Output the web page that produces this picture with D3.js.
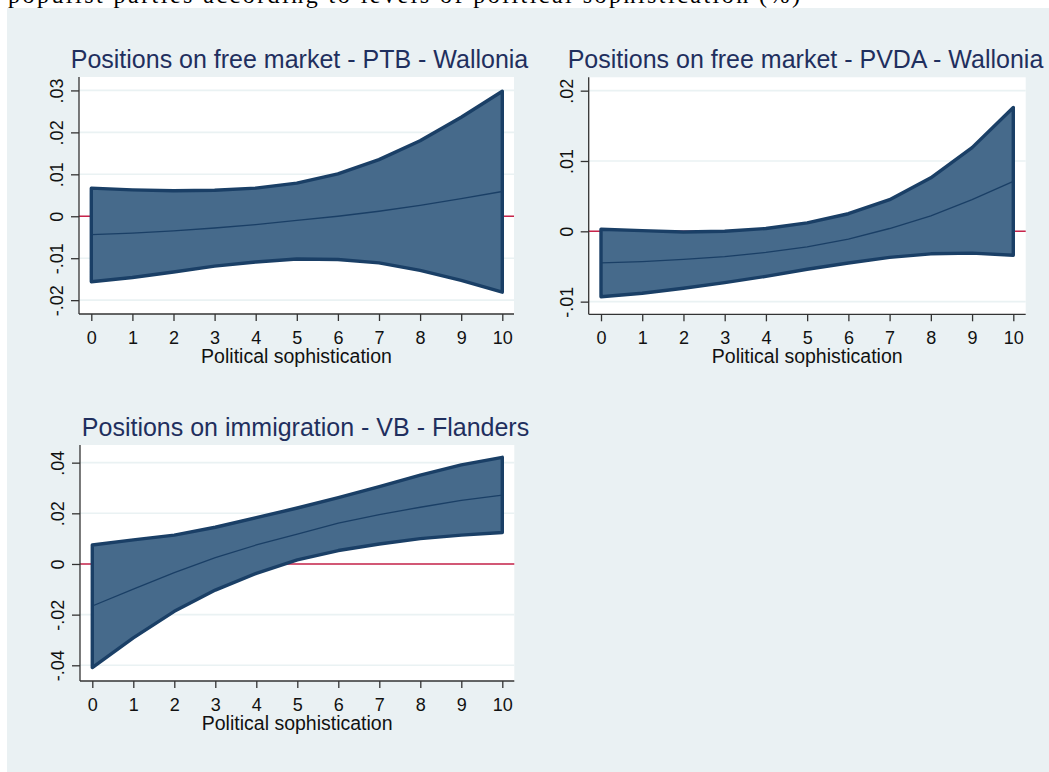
<!DOCTYPE html>
<html>
<head>
<meta charset="utf-8">
<script src="https://cdn.jsdelivr.net/npm/d3@7/dist/d3.min.js"></script>
<style>
  html, body { margin: 0; padding: 0; background: #ffffff; }
  svg { display: block; }
</style>
</head>
<body>
<svg id="chart" width="1049" height="772"></svg>
<script>
// ---------------- DATA ----------------
const sophistication = [0, 1, 2, 3, 4, 5, 6, 7, 8, 9, 10];
const xTickValues = [0, 1, 2, 3, 4, 5, 6, 7, 8, 9, 10];
const xAxisTitle = "Political sophistication";

const ptbTitle = "Positions on free market - PTB - Wallonia";
const ptbUpper = [0.0067, 0.0063, 0.0061, 0.0062, 0.0067, 0.0079, 0.0101, 0.0135, 0.0180, 0.0236, 0.0298];
const ptbMean  = [-0.0044, -0.0040, -0.0035, -0.0028, -0.0020, -0.0010, 0.0000, 0.0012, 0.0026, 0.0042, 0.0059];
const ptbLower = [-0.0156, -0.0146, -0.0133, -0.0119, -0.0109, -0.0102, -0.0103, -0.0111, -0.0129, -0.0153, -0.0181];
const ptbYTicks = [-0.02, -0.01, 0, 0.01, 0.02, 0.03];

const pvdaTitle = "Positions on free market - PVDA - Wallonia";
const pvdaUpper = [0.0003, 0.0001, -0.0001, 0.0000, 0.0004, 0.0012, 0.0025, 0.0045, 0.0076, 0.0119, 0.0176];
const pvdaMean  = [-0.0045, -0.0043, -0.0040, -0.0036, -0.0030, -0.0022, -0.0011, 0.0004, 0.0022, 0.0045, 0.0071];
const pvdaLower = [-0.0093, -0.0088, -0.0081, -0.0073, -0.0064, -0.0054, -0.0045, -0.0037, -0.0032, -0.0031, -0.0034];
const pvdaYTicks = [-0.01, 0, 0.01, 0.02];

const vbTitle = "Positions on immigration - VB - Flanders";
const vbUpper = [0.0075, 0.0095, 0.0114, 0.0145, 0.0183, 0.0221, 0.0262, 0.0305, 0.0351, 0.0391, 0.0421];
const vbMean  = [-0.0166, -0.0099, -0.0034, 0.0025, 0.0075, 0.0118, 0.0161, 0.0195, 0.0224, 0.0251, 0.0272];
const vbLower = [-0.0409, -0.0292, -0.0187, -0.0103, -0.0037, 0.0016, 0.0053, 0.0079, 0.0100, 0.0114, 0.0124];
const vbYTicks = [-0.04, -0.02, 0, 0.02, 0.04];

const captionText = "populist parties according to levels of political sophistication (%)";

// ---------------- LAYOUT / STYLE ----------------
const COLORS = {
  outerBg: "#eaf1f3",
  plotBg: "#ffffff",
  grid: "#eaf2f3",
  fill: "#466a8b",
  outline: "#1a3f66",
  zero: "#c8234a",
  axis: "#333333",
  text: "#111111",
  title: "#1f2f5e"
};

const panels = [
  { title: ptbTitle, upper: ptbUpper, mean: ptbMean, lower: ptbLower, yTicks: ptbYTicks,
    box: { left: 79, right: 514, top: 77, bottom: 314 }, xPix: [91.3, 502.3],
    yDomain: [-0.0233, 0.0332], titleX: 299.5 },
  { title: pvdaTitle, upper: pvdaUpper, mean: pvdaMean, lower: pvdaLower, yTicks: pvdaYTicks,
    box: { left: 588.7, right: 1025.7, top: 77.3, bottom: 314.3 }, xPix: [601, 1013.3],
    yDomain: [-0.0118, 0.0219], titleX: 805.5 },
  { title: vbTitle, upper: vbUpper, mean: vbMean, lower: vbLower, yTicks: vbYTicks,
    box: { left: 80, right: 514.3, top: 445, bottom: 681 }, xPix: [92.3, 502.3],
    yDomain: [-0.0462, 0.04697], titleX: 305.5 }
];

function fmtTick(v) {
  if (Math.abs(v) < 1e-12) return "0";
  let s = String(+v.toFixed(3));
  return s.replace("0.", ".");
}

const svg = d3.select("#chart");

// caption sliver (document text cut at top)
svg.append("text")
  .attr("x", 8).attr("y", 3)
  .attr("font-family", "'Liberation Serif', 'Times New Roman', serif")
  .attr("font-size", 24)
  .attr("textLength", 792)
  .attr("lengthAdjust", "spacing")
  .attr("fill", "#000")
  .text(captionText);

// outer graph region
svg.append("rect")
  .attr("x", 7).attr("y", 8)
  .attr("width", 1049 - 7).attr("height", 772 - 8)
  .attr("fill", COLORS.outerBg);

const FONT = "'Liberation Sans', Arial, Helvetica, sans-serif";

panels.forEach(p => {
  const b = p.box;
  const g = svg.append("g");

  const x = d3.scaleLinear().domain([0, 10]).range(p.xPix);
  const y = d3.scaleLinear().domain(p.yDomain).range([b.bottom, b.top]);

  // plot region
  g.append("rect")
    .attr("x", b.left).attr("y", b.top)
    .attr("width", b.right - b.left).attr("height", b.bottom - b.top)
    .attr("fill", COLORS.plotBg);

  // gridlines
  g.selectAll("line.grid").data(p.yTicks).join("line")
    .attr("class", "grid")
    .attr("x1", b.left).attr("x2", b.right)
    .attr("y1", d => y(d)).attr("y2", d => y(d))
    .attr("stroke", COLORS.grid).attr("stroke-width", 1.6);

  // zero line
  g.append("line")
    .attr("x1", b.left).attr("x2", b.right)
    .attr("y1", y(0)).attr("y2", y(0))
    .attr("stroke", COLORS.zero).attr("stroke-width", 1.6);

  // confidence area
  const area = d3.area()
    .x((d, i) => x(sophistication[i]))
    .y0((d, i) => y(p.lower[i]))
    .y1((d, i) => y(p.upper[i]));
  g.append("path")
    .datum(sophistication)
    .attr("d", d => area(d))
    .attr("fill", COLORS.fill)
    .attr("stroke", COLORS.outline)
    .attr("stroke-width", 3.4)
    .attr("stroke-linejoin", "round");

  // mean line
  const line = d3.line()
    .x((d, i) => x(sophistication[i]))
    .y((d, i) => y(p.mean[i]));
  g.append("path")
    .datum(sophistication)
    .attr("d", line)
    .attr("fill", "none")
    .attr("stroke", COLORS.outline)
    .attr("stroke-width", 1.3);

  // axes lines
  g.append("line")
    .attr("x1", b.left).attr("x2", b.left)
    .attr("y1", b.top).attr("y2", b.bottom)
    .attr("stroke", COLORS.axis).attr("stroke-width", 1.3);
  g.append("line")
    .attr("x1", b.left).attr("x2", b.right)
    .attr("y1", b.bottom).attr("y2", b.bottom)
    .attr("stroke", COLORS.axis).attr("stroke-width", 1.3);

  // y axis ticks
  const yAxis = d3.axisLeft(y).tickValues(p.yTicks).tickFormat(fmtTick).tickSize(8).tickSizeOuter(0);
  const ya = g.append("g").attr("transform", `translate(${b.left},0)`).call(yAxis);
  ya.select(".domain").remove();
  ya.selectAll(".tick line").attr("stroke", COLORS.axis).attr("stroke-width", 1.3);
  ya.selectAll(".tick text")
    .attr("transform", "rotate(-90)")
    .attr("x", 0).attr("y", -15.8).attr("dy", 0)
    .attr("text-anchor", "middle")
    .attr("font-family", FONT).attr("font-size", 18)
    .attr("fill", COLORS.text);

  // x axis ticks
  const xAxis = d3.axisBottom(x).tickValues(xTickValues).tickFormat(d3.format("d")).tickSize(7).tickSizeOuter(0);
  const xa = g.append("g").attr("transform", `translate(0,${b.bottom})`).call(xAxis);
  xa.select(".domain").remove();
  xa.selectAll(".tick line").attr("stroke", COLORS.axis).attr("stroke-width", 1.3);
  xa.selectAll(".tick text")
    .attr("y", 29.5).attr("dy", 0)
    .attr("font-family", FONT).attr("font-size", 18)
    .attr("fill", COLORS.text);

  // axis title
  g.append("text")
    .attr("x", (b.left + b.right) / 2).attr("y", b.bottom + 48.5)
    .attr("text-anchor", "middle")
    .attr("font-family", FONT).attr("font-size", 19.5)
    .attr("fill", COLORS.text)
    .text(xAxisTitle);

  // panel title
  g.append("text")
    .attr("x", p.titleX).attr("y", b.top - 9.5)
    .attr("text-anchor", "middle")
    .attr("font-family", FONT).attr("font-size", 25)
    .attr("fill", COLORS.title)
    .text(p.title);
});
</script>
</body>
</html>
